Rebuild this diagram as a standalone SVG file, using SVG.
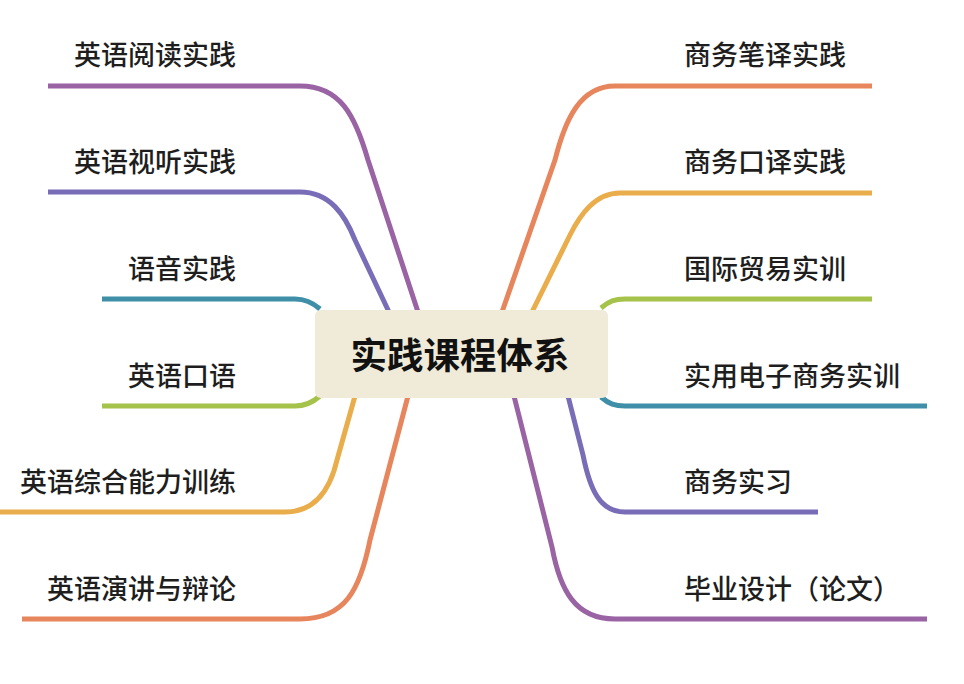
<svg xmlns="http://www.w3.org/2000/svg" width="964" height="684" viewBox="0 0 964 684">
<style>
.c{fill:none;stroke-width:5;stroke-linecap:butt;stroke-linejoin:round}
.t{font-family:"Noto Sans CJK SC","Noto Sans",sans-serif;font-size:27px;font-weight:500;fill:#1e1e1e;dominant-baseline:central}
.l{text-anchor:end}
.purple{stroke:#9a63a4}.blue{stroke:#7a6db7}.teal{stroke:#3f8fa9}.green{stroke:#a5c24b}.yellow{stroke:#eaad4c}.orange{stroke:#e7855c}
</style>
<rect width="964" height="684" fill="#ffffff"/>
<g id="connectors">
<path class="c purple" d="M48,86 H300 C340,86 355,115 368,160 L418,312"/>
<path class="c blue" d="M48,192 H300 C330,192 345,215 355,240 L389,312"/>
<path class="c teal" d="M102,299 H295 C305,299 312,302 320,309"/>
<path class="c green" d="M102,406 H295 C305,406 312,403 320,396"/>
<path class="c yellow" d="M0,512 H285 C315,512 330,490 337,460 L355,396"/>
<path class="c orange" d="M22,619 H300 C345,619 360,590 370,540 L408,396"/>
<path class="c orange" d="M872,86 H615 C580,86 565,120 555,160 L502,312"/>
<path class="c yellow" d="M872,193 H620 C595,193 580,215 570,235 L532,312"/>
<path class="c green" d="M872,299 H625 C615,299 609,301 601,308"/>
<path class="c teal" d="M927,406 H625 C615,406 609,404 601,397"/>
<path class="c blue" d="M818,512 H625 C600,512 590,490 583,455 L568,396"/>
<path class="c purple" d="M927,619 H615 C575,619 560,590 552,547 L514,396"/>
</g>
<g id="root">
<rect x="315" y="310" width="293" height="88" rx="6" fill="#efebd8"/>
<text x="460" y="353" text-anchor="middle" dominant-baseline="central" font-family="'Noto Sans CJK SC','Noto Sans',sans-serif" font-size="36.5" font-weight="bold" fill="#111">实践课程体系</text>
</g>
<g id="n-l1"><text class="t l" x="236" y="53">英语阅读实践</text></g>
<g id="n-l2"><text class="t l" x="236" y="160">英语视听实践</text></g>
<g id="n-l3"><text class="t l" x="236" y="267">语音实践</text></g>
<g id="n-l4"><text class="t l" x="236" y="374">英语口语</text></g>
<g id="n-l5"><text class="t l" x="236" y="480">英语综合能力训练</text></g>
<g id="n-l6"><text class="t l" x="236" y="587">英语演讲与辩论</text></g>
<g id="n-r1"><text class="t" x="684" y="53">商务笔译实践</text></g>
<g id="n-r2"><text class="t" x="684" y="160">商务口译实践</text></g>
<g id="n-r3"><text class="t" x="684" y="267">国际贸易实训</text></g>
<g id="n-r4"><text class="t" x="684" y="374">实用电子商务实训</text></g>
<g id="n-r5"><text class="t" x="684" y="480">商务实习</text></g>
<g id="n-r6"><text class="t" x="684" y="587">毕业设计（论文）</text></g>
</svg>
